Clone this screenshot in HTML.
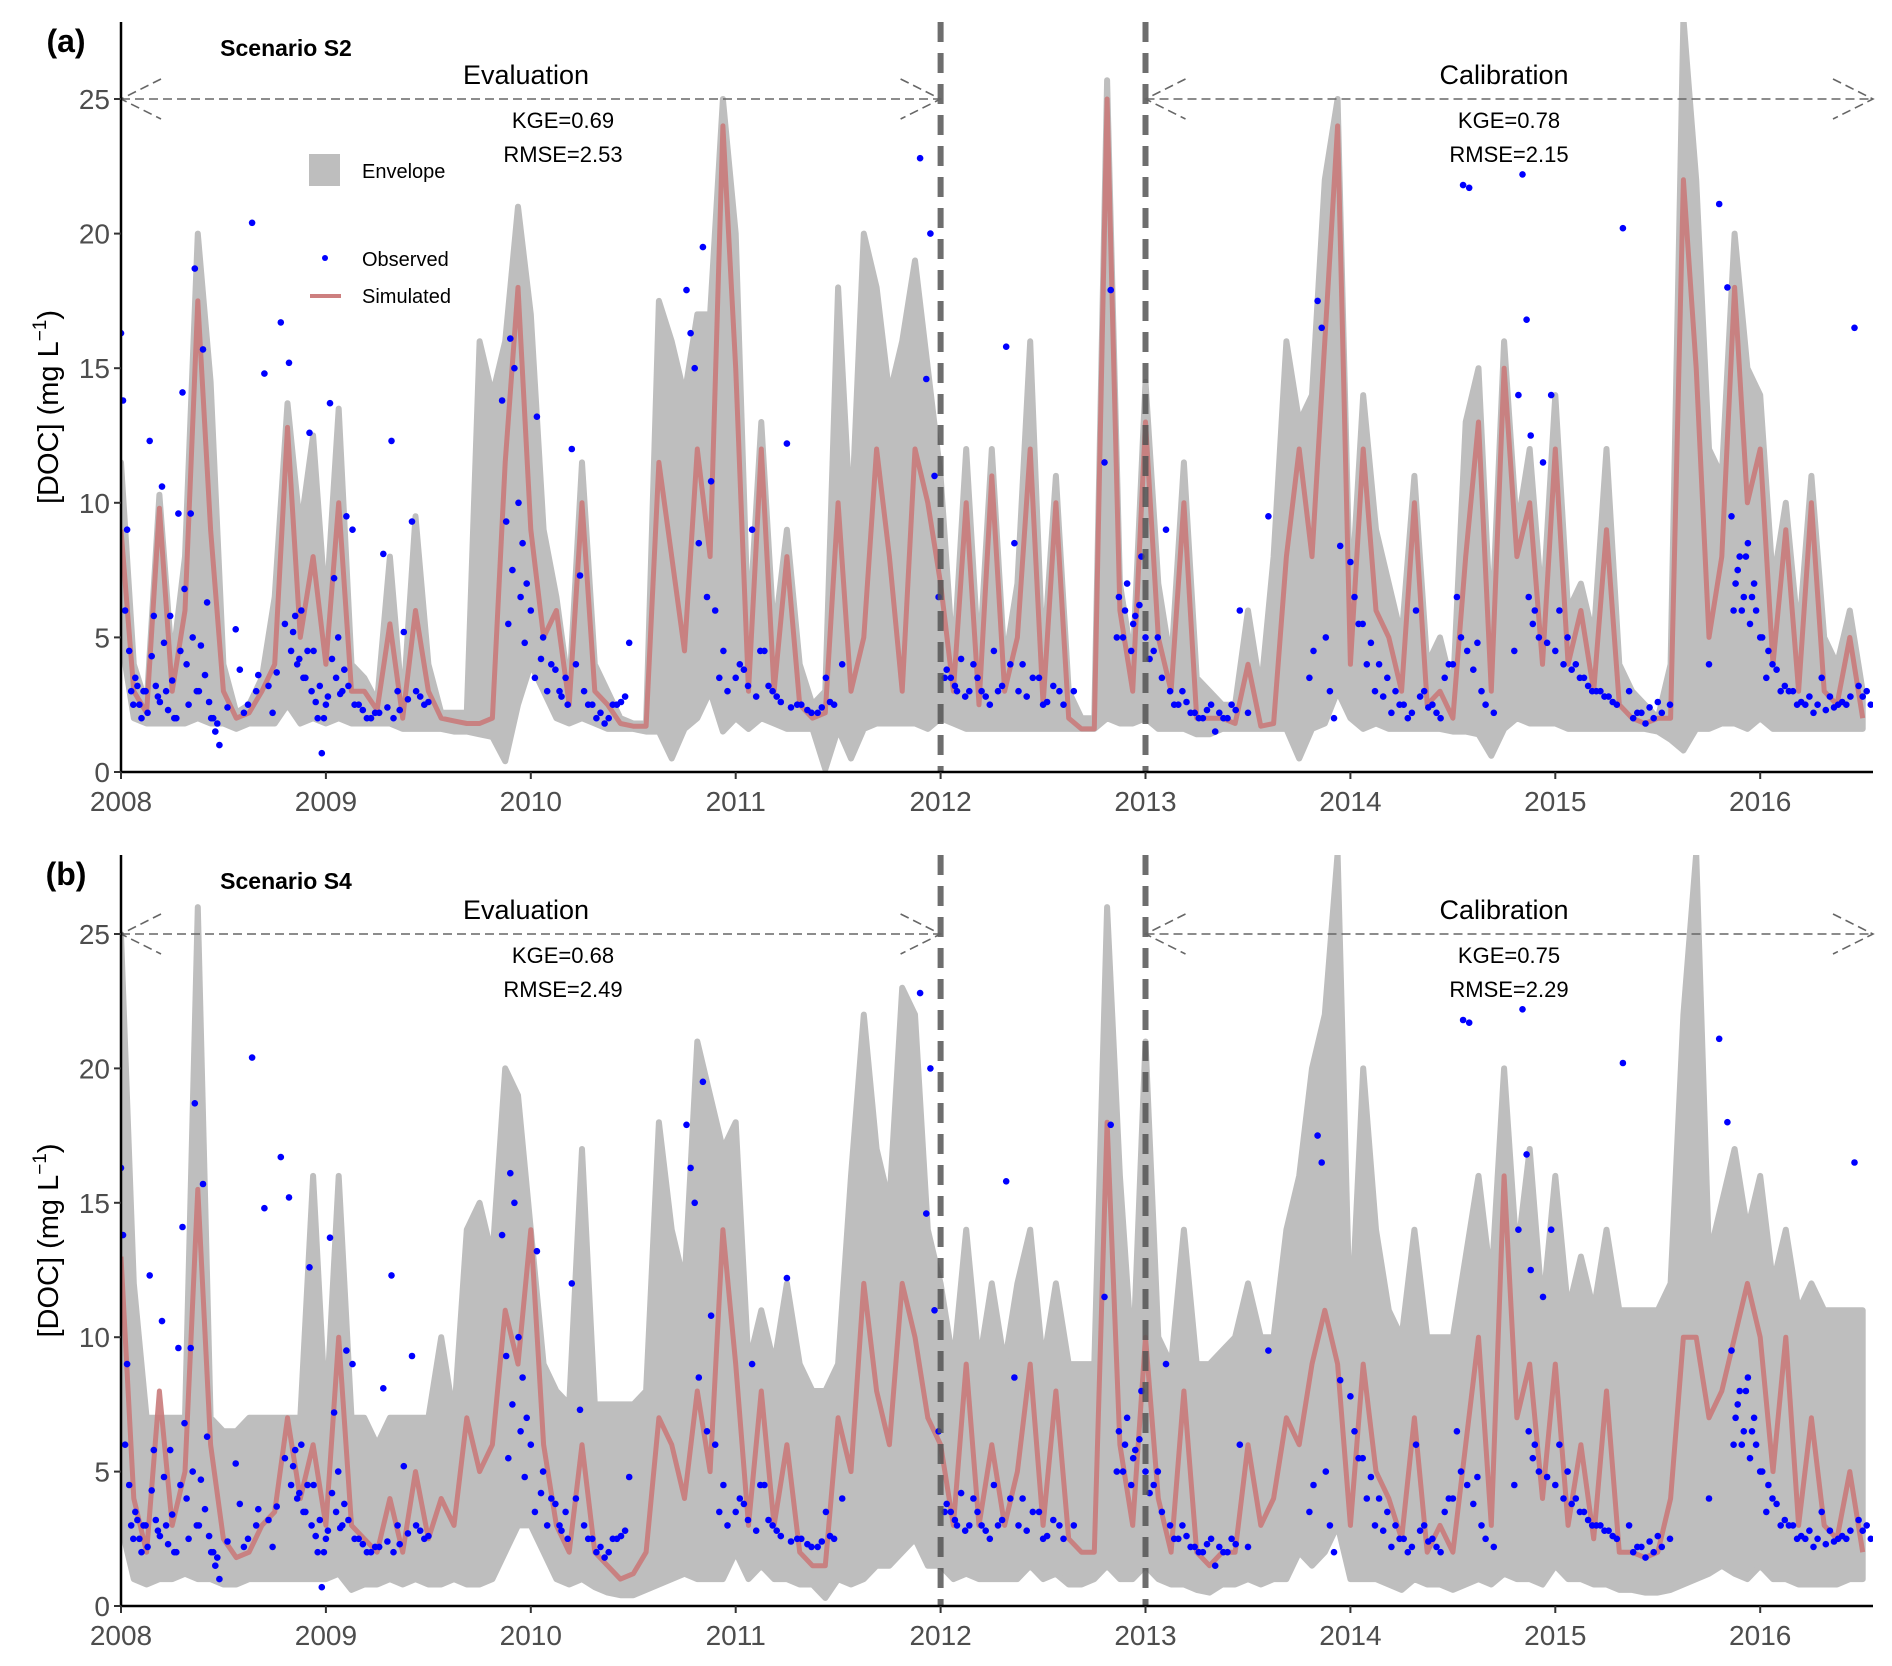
<!DOCTYPE html>
<html><head><meta charset="utf-8">
<style>
html,body{margin:0;padding:0;background:#fff;}
svg{display:block;font-family:"Liberation Sans",Arial,sans-serif;}
</style></head>
<body>
<svg id="chart" width="1892" height="1666" viewBox="0 0 1892 1666" xmlns="http://www.w3.org/2000/svg"></svg>
<script>
// ---- data (values sampled every 1/16 year starting 2008.0) ----
const startYear = 2008;
const stepsPerYear = 16;
const xTickYears = [2008,2009,2010,2011,2012,2013,2014,2015,2016];
const yTicks = [0,5,10,15,20,25];

const simA = [9,3,2.2,9.8,3,6,17.5,9,3,2,2.2,3,4,12.8,5,8,
4,10,3,3,2.3,5.5,2,6,3,2,1.9,1.8,1.8,2,11.5,18,
9,5,6,2.5,10,3,2.5,1.8,1.7,1.7,11.5,8,4.5,12,8,24,
15,3,12,3,8,2.5,2,2.2,10,3,5,12,8,3,12,10,
7,3,10,2.5,11,3,5,12,2.5,10,2,1.6,1.6,25,6,3,
13,5,3,10,2,2,2,1.8,4,1.7,1.8,8,12,8,16,24,
4,12,6,5,3,10,2.5,3,2,8,13,3,15,8,10,4,
12,4,6,3,9,2.5,2,1.8,2,2,22,15,5,8,18,10,
12,4,9,3,10,3,2.5,5,2];
const hiA = [11.5,4,2.5,10.3,4,8,20,14.5,4,2.2,2.5,3.5,6.5,13.7,9,12.5,
6,13.5,4,3.5,2.6,8,2.3,9.5,4,2.2,2.2,2.2,16,14,16,21,
17,9,6.5,3,11.5,4,3,2,1.8,1.8,17.5,16,14,17,17,25,
20,5,13,5,9,4,2.5,3,18,9,20,18,14,16,19,15,
11,4,12,4,12,4,7,16,4,11,3,2,2,25.7,7,4,
14.5,7,4,11.5,3.5,3,2.5,2.5,6,3,8,16,13,14,22,25,
6,14,9,7,5,11,4,5,3,13,15,5,16,9,12,6,
14,6,7,5,12,4,3,2.5,2,4,28,22,12,11,20,15,
14,7,10,5,11,5,4,6,3];
const loA = [5,2,1.8,1.8,1.8,1.8,2,1.8,1.8,1.6,1.8,1.8,1.8,2.5,1.8,2,
1.8,2,1.8,1.8,1.8,1.8,1.6,1.6,1.6,1.6,1.5,1.5,1.4,1.3,0.4,2.5,
4,3,2,1.8,2,1.8,1.6,1.6,1.6,1.5,1.5,0.5,1.6,2,3,1.5,
2,1.6,2,1.8,1.6,1.6,1.6,0.1,1.6,0.5,1.6,1.8,1.8,1.8,1.8,1.6,
2,1.8,1.6,1.6,1.6,1.6,1.6,1.6,1.6,1.6,1.6,1.6,1.6,2,1.8,1.8,
2,1.6,1.6,1.6,1.4,1.4,1.6,1.6,1.6,1.6,1.6,1.6,0.5,1.6,1.8,3,
2,1.6,1.8,1.6,1.6,1.6,1.6,1.6,1.5,1.5,1.4,0.6,1.6,2,1.8,1.8,
1.8,1.6,1.6,1.6,1.6,1.6,1.6,1.6,1.5,1.2,0.8,1.6,1.6,1.8,1.8,1.6,
2,1.6,1.6,1.6,1.6,1.6,1.6,1.6,1.6];

const simB = [13,4,2,8,3,5,15.5,6,2.5,1.8,2,3,3.5,7,4,6,
3,10,3,2.5,2,4,2,5,2.5,4,3,7,5,6,11,9,
14,6,3,2,6,2,1.5,1,1.2,2,7,6,4,8,5,14,
9,3,8,3,6,2,1.5,1.5,7,5,12,8,6,12,10,7,
6,3,9,3,6,3,5,9,3,8,2.5,2,2,18,6,3,
10,4,2,8,2,1.5,2,2,6,3,4,7,6,9,11,9,
3,9,5,4,2.5,7,2,3,2,6,10,3,16,7,9,4,
9,3,6,2.5,8,2,2,1.8,2,4,10,10,7,8,10,12,
10,5,10,3,7,3,2.5,5,2];
const hiB = [25,12,7,7,7,7,26,7,6.5,6.5,7,7,7,7,7,16,
7,16,7,7,6,7,7,7,7,10,7,14,15,13,20,19,
14,9,8,7.5,17,7.5,7.5,7.5,7.5,8,18,14,12,21,19,17,
18,9,11,9,12,9,8,8,9,16,22,17,15,23,22,14,
12,9,14,9,12,9,12,14,9,12,9,9,9,26,16,9,
21,10,9,14,9,9,9.5,10,12,10,10,14,16,20,22,28,
10,20,14,11,10,14,10,10,10,13,16,12,20,13,17,11,
16,11,13,11,14,11,11,11,11,12,22,28,13,15,17,14,
16,12,14,11,12,11,11,11,11];
const loB = [3,1,0.8,1,1,1.2,1,1,0.8,0.8,1,1,1,1,1,1,
1,1.2,0.6,0.8,0.8,1,0.8,1,0.8,0.8,1,0.8,0.8,1,2,3,
3,2,1,0.8,1,0.7,0.5,0.4,0.4,0.6,0.8,1,1.2,1,1,1,
2,1,1.5,1,1,0.8,0.8,0.3,1,0.8,1,1.5,1.5,2,2.5,1.5,
1.5,1,1.2,1,1,1,1,1.5,1,1.2,0.8,0.8,1,1.5,1,1,
1.5,1,0.8,0.8,0.6,0.5,0.8,0.8,1,0.8,1,1,2,1.5,2,3,
1,1,1,0.8,0.6,1,0.8,0.8,0.6,0.8,1,0.8,1.2,1,1,0.8,
1.5,1,1,0.8,0.8,0.6,0.6,0.5,0.5,0.6,0.8,1,1.2,1.5,1.2,1,
1.5,1,1,0.8,0.8,0.8,0.8,1,1];

const obsT1 = [2008.0,2008.01,2008.02,2008.03,2008.04,2008.05,2008.06,2008.08,2008.1,2008.12,2008.14,2008.16,2008.18,2008.2,2008.22,2008.24,2008.26,2008.28,2008.3,2008.32,2008.34,2008.36,2008.38,2008.4,2008.42,2008.44,2008.46,2008.48,2008.52,2008.56,2008.6,2008.64,2008.67,2008.7,2008.74,2008.78,2008.82,2008.84,2008.86,2008.88,2008.9,2008.92,2008.94,2008.96,2008.98,2009.0,2009.02,2009.04,2009.06,2009.08,2009.1,2009.13,2009.16,2009.2,2009.24,2009.28,2009.32,2009.35,2009.38,2009.42,2009.46,2009.5,
2009.86,2009.88,2009.9,2009.92,2009.94,2009.96,2009.98,2010.0,2010.03,2010.06,2010.1,2010.14,2010.17,2010.2,2010.24,2010.28,2010.32,2010.36,2010.4,2010.44,2010.48,
2010.76,2010.78,2010.8,2010.82,2010.84,2010.86,2010.88,2010.9,2010.94,2011.0,2011.04,2011.08,2011.12,2011.16,2011.2,2011.25,2011.3,2011.35,2011.4,2011.44,2011.48,2011.52,
2011.9,2011.93,2011.95,2011.97,2011.99,2012.02,2012.05,2012.08,2012.12,2012.16,2012.2,2012.24,2012.28,2012.32,2012.36,2012.4,2012.45,2012.5,2012.55,2012.6,2012.65,
2012.8,2012.83,2012.86,2012.9,2012.94,2012.98,2013.02,2013.06,2013.1,2013.14,2013.18,2013.22,2013.26,2013.3,2013.34,2013.38,2013.42,2013.46,2013.5,2013.6,
2013.8,2013.82,2013.84,2013.86,2013.88,2013.9,2013.92,2013.95,2014.0,2014.04,2014.08,2014.12,2014.16,2014.2,2014.24,2014.28,2014.32,2014.36,2014.4,2014.44,2014.48,2014.52,2014.55,2014.58,2014.62,2014.66,2014.7,
2014.8,2014.82,2014.84,2014.86,2014.88,2014.9,2014.94,2014.98,2015.02,2015.06,2015.1,2015.14,2015.18,2015.22,2015.26,2015.3,2015.33,2015.36,2015.4,2015.44,2015.48,2015.52,2015.56,
2015.75,2015.8,2015.84,2015.86,2015.88,2015.9,2015.92,2015.94,2015.96,2015.98,2016.0,2016.03,2016.06,2016.1,2016.14,2016.18,2016.22,2016.26,2016.3,2016.34,2016.38,2016.42,2016.46,2016.5,2016.54];
const obsV1 = [16.3,13.8,6,9,4.5,3,2.5,3.2,2,3,12.3,5.8,2.8,10.6,3,5.8,2,9.6,14.1,4,9.6,18.7,3,15.7,6.3,2,1.5,1,2.4,5.3,2.2,20.4,3.6,14.8,2.2,16.7,15.2,5.2,4,6,3.5,12.6,4.5,2,0.7,2.5,13.7,7.2,5,3,9.5,9,2.5,2,2.2,8.1,12.3,3,5.2,9.3,2.8,2.6,
13.8,9.3,16.1,15,10,8.5,7,6,13.2,5,4,3,3.5,12,7.3,2.5,2,1.8,2.5,2.6,4.8,
17.9,16.3,15,8.5,19.5,6.5,10.8,6,4.5,3.5,3.8,9,4.5,3.2,2.8,12.2,2.5,2.3,2.2,3.5,2.5,4,
22.8,14.6,20,11,6.5,3.5,3.5,3,2.8,4,3,2.5,3,15.8,8.5,4,3.5,2.5,3.2,2.5,3,
11.5,17.9,5,6,5.5,8,4.2,5,9,2.5,3,2.2,2,2.3,1.5,2,2.5,6,2.2,9.5,
3.5,4.5,17.5,16.5,5,3,2,8.4,7.8,5.5,4,3,2.8,2.2,2.5,2,6,3,2.5,2,4,6.5,21.8,21.7,4.8,2.5,2.2,
4.5,14,22.2,16.8,12.5,6,11.5,14,6,5,4,3.5,3,3,2.8,2.5,20.2,3,2.2,1.8,2,2.2,2.5,
4,21.1,18,9.5,7,8,6.5,8.5,6.5,6,5,3.5,4,3,3,2.5,2.5,2.2,3.5,2.8,2.5,2.5,16.5,2.8,2.5];
const obsT2 = [2008.07,2008.09,2008.11,2008.13,2008.15,2008.17,2008.19,2008.21,2008.23,2008.25,2008.27,2008.29,2008.31,2008.33,2008.35,2008.37,2008.39,2008.41,2008.43,2008.45,2008.47,
2008.58,2008.62,2008.66,2008.72,2008.76,2008.8,2008.83,2008.85,2008.87,2008.89,2008.91,2008.93,2008.95,2008.97,2008.99,
2009.01,2009.03,2009.05,2009.07,2009.09,2009.11,2009.14,2009.18,2009.22,2009.26,2009.3,2009.33,2009.36,2009.4,2009.44,2009.48,
2009.89,2009.91,2009.95,2009.97,2010.02,2010.05,2010.08,2010.12,2010.15,2010.18,2010.22,2010.26,2010.3,2010.34,2010.38,2010.42,2010.46,
2010.92,2010.96,2011.02,2011.06,2011.1,2011.14,2011.18,2011.22,2011.27,2011.32,2011.37,2011.42,2011.46,
2012.03,2012.07,2012.1,2012.14,2012.18,2012.22,2012.26,2012.3,2012.34,2012.38,2012.42,2012.48,2012.52,2012.58,
2012.87,2012.89,2012.91,2012.93,2012.95,2012.97,2013.0,2013.04,2013.08,2013.12,2013.16,2013.2,2013.24,2013.28,2013.32,2013.36,2013.4,2013.44,
2014.02,2014.06,2014.1,2014.14,2014.18,2014.22,2014.26,2014.3,2014.34,2014.38,2014.42,2014.46,2014.5,2014.54,2014.57,2014.6,2014.64,
2014.87,2014.89,2014.92,2014.96,2015.0,2015.04,2015.08,2015.12,2015.16,2015.2,2015.24,2015.28,2015.38,2015.42,2015.46,2015.5,
2015.87,2015.89,2015.91,2015.93,2015.95,2015.97,2016.01,2016.04,2016.08,2016.12,2016.16,2016.2,2016.24,2016.28,2016.32,2016.36,2016.4,2016.44,2016.48,2016.52];
const obsV2 = [3.5,2.5,3.0,2.2,4.3,3.2,2.6,4.8,2.3,3.4,2.0,4.5,6.8,2.5,5.0,3.0,4.7,3.6,2.6,2.0,1.8,
3.8,2.5,3.0,3.2,3.7,5.5,4.5,5.8,4.2,3.5,4.5,3.0,2.6,3.2,2.0,
2.8,4.2,3.5,2.9,3.8,3.2,2.5,2.3,2.0,2.2,2.4,2.0,2.3,2.7,3.0,2.5,
5.5,7.5,6.5,4.8,3.5,4.2,3.0,3.8,2.8,2.5,4.0,3.0,2.5,2.2,2.0,2.5,2.8,
3.5,3.0,4.0,3.2,2.8,4.5,3.0,2.6,2.4,2.5,2.2,2.4,2.6,
3.8,3.2,4.2,3.0,3.5,2.8,4.5,3.2,4.0,3.0,2.8,3.5,2.6,3.0,
6.5,5.0,7.0,4.5,5.8,6.2,5.0,4.5,3.5,3.0,2.5,2.6,2.2,2.0,2.5,2.2,2.0,2.3,
6.5,5.5,4.8,4.0,3.5,3.0,2.5,2.2,2.8,2.4,2.2,3.5,4.0,5.0,4.5,3.8,3.0,
6.5,5.5,5.0,4.8,4.5,4.0,3.8,3.5,3.2,3.0,2.8,2.6,2.0,2.2,2.4,2.6,
6.0,7.5,6.0,8.0,5.5,7.0,5.0,4.5,3.8,3.2,3.0,2.6,2.8,2.5,2.3,2.4,2.6,2.8,3.2,3.0];
const obsT = obsT1.concat(obsT2);
const obsV = obsV1.concat(obsV2);

// ---- layout ----
const NS = "http://www.w3.org/2000/svg";
const svg = document.getElementById("chart");
const X0 = 121, PXY = 204.9;
function xs(t){ return X0 + (t - startYear) * PXY; }
function tAt(i){ return startYear + i / stepsPerYear; }
const XEND = 1873;

function el(tag, attrs, parent){
  const e = document.createElementNS(NS, tag);
  for (const k in attrs) e.setAttribute(k, attrs[k]);
  (parent || svg).appendChild(e);
  return e;
}

function drawPanel(cfg){
  const g = el("g", {});
  
  
  const ys = v => cfg.y0 - v * cfg.k;
  const clip = el("clipPath", {id: "clip" + cfg.letter}, g);
  el("rect", {x: X0, y: cfg.top, width: XEND - X0, height: cfg.y0 - cfg.top}, clip);
  const pg = el("g", {"clip-path": "url(#clip" + cfg.letter + ")"}, g);

  let pts = [];
  for (let i = 0; i < cfg.hi.length; i++) pts.push(xs(tAt(i)).toFixed(1) + "," + ys(cfg.hi[i]).toFixed(1));
  for (let i = cfg.lo.length - 1; i >= 0; i--) pts.push(xs(tAt(i)).toFixed(1) + "," + ys(cfg.lo[i]).toFixed(1));
  const env = el("polygon", {points: pts.join(" "), fill: "#bebebe", stroke: "#bebebe", "stroke-width": 6, "stroke-linejoin": "round"}, pg);
  
  

  let sp = [];
  for (let i = 0; i < cfg.sim.length; i++) sp.push(xs(tAt(i)).toFixed(1) + "," + ys(cfg.sim[i]).toFixed(1));
  const sim = el("polyline", {points: sp.join(" "), fill: "none", stroke: "#c97a7a", "stroke-width": 5, "stroke-linejoin": "round", opacity: 0.9}, pg);
  
  

  const og = el("g", {fill: "#0000ff"}, pg);
  
  
  for (let i = 0; i < obsT.length; i++){
    const c = el("circle", {cx: xs(obsT[i]).toFixed(1), cy: ys(obsV[i]).toFixed(1), r: 3.3}, og);
    
    
  }

  [2012, 2013].forEach(yr => {
    const l = el("line", {x1: xs(yr), x2: xs(yr), y1: cfg.top, y2: cfg.y0, stroke: "#555", "stroke-opacity": 0.85, "stroke-width": 6, "stroke-dasharray": "20,11"}, g);
    
    
  });

  const ay = ys(25);
  const arrows = [[X0, xs(2012)], [xs(2013), XEND]];
  arrows.forEach((a, j) => {
    const ag = el("g", {stroke: "#666", "stroke-width": 1.6, fill: "none", "stroke-dasharray": "9,5"}, g);
    
    
    el("line", {x1: a[0], x2: a[1], y1: ay, y2: ay}, ag);
    el("polyline", {points: (a[0]+40)+","+(ay-20)+" "+a[0]+","+ay+" "+(a[0]+40)+","+(ay+20)}, ag);
    el("polyline", {points: (a[1]-40)+","+(ay-20)+" "+a[1]+","+ay+" "+(a[1]-40)+","+(ay+20)}, ag);
  });

  const ax = el("line", {x1: X0, x2: X0, y1: cfg.top, y2: cfg.y0 + 1, stroke: "#000", "stroke-width": 2.5}, g);
  
  
  const bx = el("line", {x1: X0 - 1, x2: XEND, y1: cfg.y0, y2: cfg.y0, stroke: "#000", "stroke-width": 2.5}, g);
  
  

  yTicks.forEach(v => {
    el("line", {x1: X0 - 7, x2: X0, y1: ys(v), y2: ys(v), stroke: "#333", "stroke-width": 2}, g);
    const t = el("text", {x: X0 - 11, y: ys(v) + 10, "text-anchor": "end", "font-size": 28, fill: "#4d4d4d"}, g);
    t.textContent = v;
    
    
  });
  xTickYears.forEach(yr => {
    el("line", {x1: xs(yr), x2: xs(yr), y1: cfg.y0, y2: cfg.y0 + 7, stroke: "#333", "stroke-width": 2}, g);
    const t = el("text", {x: xs(yr), y: cfg.y0 + 39, "text-anchor": "middle", "font-size": 28, fill: "#4d4d4d"}, g);
    t.textContent = yr;
    
    
  });

  const yc = (cfg.top + cfg.y0) / 2 + 10;
  const yt = el("text", {transform: "translate(58," + yc + ") rotate(-90)", "text-anchor": "middle", "font-size": 29, fill: "#000"}, g);
  yt.innerHTML = '[DOC] (mg L<tspan dy="-12" font-size="19">\u22121</tspan><tspan dy="12">)</tspan>';
  
  

  const texts = [
    [66, cfg.top + 30, "(" + cfg.letter + ")", 32, "bold", "middle", "panel-label"],
    [286, cfg.top + 34, cfg.scenario, 23, "bold", "middle", "scenario-title"],
    [526, ay - 15, "Evaluation", 27, "normal", "middle", "evaluation-label"],
    [563, ay + 29, cfg.evalKGE, 22, "normal", "middle", "evaluation-kge"],
    [563, ay + 63, cfg.evalRMSE, 22, "normal", "middle", "evaluation-rmse"],
    [1504, ay - 15, "Calibration", 27, "normal", "middle", "calibration-label"],
    [1509, ay + 29, cfg.calKGE, 22, "normal", "middle", "calibration-kge"],
    [1509, ay + 63, cfg.calRMSE, 22, "normal", "middle", "calibration-rmse"]
  ];
  texts.forEach(tx => {
    const t = el("text", {x: tx[0], y: tx[1], "font-size": tx[3], "font-weight": tx[4], "text-anchor": tx[5], fill: "#000"}, g);
    t.textContent = tx[2];
    
    
  });
}

drawPanel({name: "panel-a", letter: "a", scenario: "Scenario S2", top: 22, y0: 772, k: 26.92,
  sim: simA, hi: hiA, lo: loA, evalKGE: "KGE=0.69", evalRMSE: "RMSE=2.53", calKGE: "KGE=0.78", calRMSE: "RMSE=2.15"});
drawPanel({name: "panel-b", letter: "b", scenario: "Scenario S4", top: 855, y0: 1606, k: 26.88,
  sim: simB, hi: hiB, lo: loB, evalKGE: "KGE=0.68", evalRMSE: "RMSE=2.49", calKGE: "KGE=0.75", calRMSE: "RMSE=2.29"});

const lg = el("g", {});


const r = el("rect", {x: 309, y: 154, width: 31, height: 32, fill: "#bebebe"}, lg);


const c = el("circle", {cx: 325, cy: 258, r: 3, fill: "#0000ff"}, lg);


const l = el("line", {x1: 310, x2: 341, y1: 296, y2: 296, stroke: "#cd7f7f", "stroke-width": 4}, lg);


[["Envelope", 178, "legend-envelope"], ["Observed", 266, "legend-observed"], ["Simulated", 303, "legend-simulated"]].forEach(d => {
  const t = el("text", {x: 362, y: d[1], "font-size": 20, fill: "#000"}, lg);
  t.textContent = d[0];
  
  
});
</script>
</body></html>
